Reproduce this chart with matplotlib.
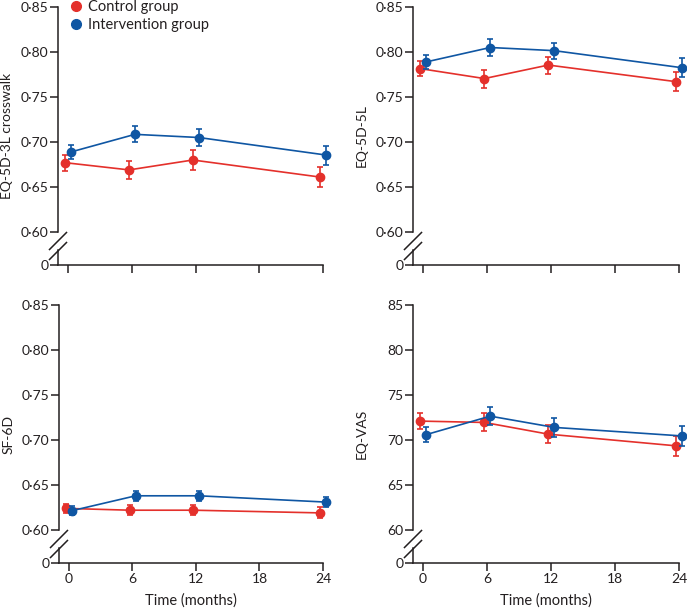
import matplotlib.pyplot as plt

plt.rcParams['font.family'] = ['Lato', 'DejaVu Sans']
plt.rcParams['font.size'] = 10

RED = '#e4302b'
BLUE = '#0f56a3'
INK = '#231f20'

months = [0, 6, 12, 24]
x_ticks = [0, 6, 12, 18, 24]
shift_control = -0.25
shift_interv = 0.3

# EQ-5D-3L crosswalk
eq3l_control = [0.677, 0.669, 0.680, 0.661]
eq3l_control_err = [0.009, 0.010, 0.011, 0.011]
eq3l_interv = [0.689, 0.7085, 0.705, 0.6855]
eq3l_interv_err = [0.008, 0.009, 0.009, 0.0105]

# EQ-5D-5L
eq5l_control = [0.7815, 0.7705, 0.7855, 0.767]
eq5l_control_err = [0.008, 0.010, 0.0095, 0.0105]
eq5l_interv = [0.789, 0.805, 0.8015, 0.7825]
eq5l_interv_err = [0.008, 0.009, 0.0088, 0.0104]

# SF-6D
sf6d_control = [0.624, 0.622, 0.622, 0.619]
sf6d_control_err = [0.0046, 0.0055, 0.0057, 0.006]
sf6d_interv = [0.6215, 0.638, 0.638, 0.631]
sf6d_interv_err = [0.005, 0.0054, 0.0055, 0.006]

# EQ-VAS
vas_control = [72.1, 71.95, 70.65, 69.35]
vas_control_err = [0.93, 1.0, 1.0, 1.1]
vas_interv = [70.6, 72.65, 71.4, 70.45]
vas_interv_err = [0.83, 0.98, 1.05, 1.07]

util_ticks = [0.60, 0.65, 0.70, 0.75, 0.80, 0.85]
util_labels = ['0·60', '0·65', '0·70', '0·75', '0·80', '0·85']
vas_ticks = [60, 65, 70, 75, 80, 85]
vas_labels = ['60', '65', '70', '75', '80', '85']

panels = [
    ("EQ-5D-3L crosswalk", eq3l_control, eq3l_control_err, eq3l_interv, eq3l_interv_err, util_ticks, util_labels),
    ("EQ-5D-5L", eq5l_control, eq5l_control_err, eq5l_interv, eq5l_interv_err, util_ticks, util_labels),
    ("SF-6D", sf6d_control, sf6d_control_err, sf6d_interv, sf6d_interv_err, util_ticks, util_labels),
    ("EQ-VAS", vas_control, vas_control_err, vas_interv, vas_interv_err, vas_ticks, vas_labels),
]

W, H = 687, 609
boxes = [(58, 265, 265), (413, 265, 266), (59, 563, 264), (413, 563, 266)]  # left, bottom, width (px)
AX_H = 258
GAP = 33  # px between the lowest real tick and the "0" at the bottom


def draw_panel(ax, label, c, ce, v, ve, ticks, tick_labels, bottom_row):
    step = ticks[1] - ticks[0]
    tick_px = (AX_H - GAP) / (len(ticks) - 1)
    y0 = ticks[0] - step * GAP / tick_px
    ax.set_ylim(y0, ticks[-1])
    ax.set_xlim(-24 * 10 / 255, 24)

    xc = [m + shift_control for m in months]
    xv = [m + shift_interv for m in months]
    ax.errorbar(xc, c, yerr=ce, color=RED, marker='o', markersize=6, lw=1.2,
                elinewidth=1.2, capsize=2.5, capthick=1.2, clip_on=False,
                label='Control group', zorder=3)
    ax.errorbar(xv, v, yerr=ve, color=BLUE, marker='o', markersize=6, lw=1.2,
                elinewidth=1.2, capsize=2.5, capthick=1.2, clip_on=False,
                label='Intervention group', zorder=4)

    ax.set_yticks([y0] + ticks)
    ax.set_yticklabels(['0'] + tick_labels)
    ax.set_xticks(x_ticks)
    if bottom_row:
        ax.set_xticklabels([str(t) for t in x_ticks])
        ax.set_xlabel('Time (months)', fontsize=10.5, color=INK, labelpad=6)
    else:
        ax.set_xticklabels([])

    ax.tick_params(length=5.5, width=1.1, color=INK, pad=1.5, labelsize=10, labelcolor=INK)
    ax.set_ylabel(label, fontsize=10, color=INK)
    ax.yaxis.set_label_coords(-0.17, 0.5)

    for s in ['top', 'right', 'left']:
        ax.spines[s].set_visible(False)
    ax.spines['bottom'].set_linewidth(1.1)
    ax.spines['bottom'].set_color(INK)

    # broken left spine
    top_frac = GAP / AX_H
    ax.plot([0, 0], [top_frac, 1], transform=ax.transAxes, color=INK, lw=1.1, clip_on=False)
    ax.plot([0, 0], [0, 15 / AX_H], transform=ax.transAxes, color=INK, lw=1.1, clip_on=False)
    dx = 8.5 / 265
    dy = 8.5 / AX_H
    for cy in [24 / AX_H, 14 / AX_H]:
        ax.plot([-dx, dx], [cy - dy, cy + dy], transform=ax.transAxes, color=INK,
                lw=1.1, clip_on=False)


fig = plt.figure(figsize=(W / 100, H / 100), dpi=100)
for i, (label, c, ce, v, ve, ticks, tick_labels) in enumerate(panels):
    left, bottom, width = boxes[i]
    ax = fig.add_axes([left / W, 1 - bottom / H, width / W, AX_H / H])
    draw_panel(ax, label, c, ce, v, ve, ticks, tick_labels, i >= 2)
    if i == 0:
        handles = [plt.Line2D([], [], color=RED, marker='o', ls='none', markersize=7),
                   plt.Line2D([], [], color=BLUE, marker='o', ls='none', markersize=7)]
        ax.legend(handles, ['Control group', 'Intervention group'], loc='upper left',
                  bbox_to_anchor=(0.02, 1.055), frameon=False, handlelength=0.8,
                  handletextpad=0.4, borderpad=0, labelspacing=0.3, fontsize=10.5,
                  labelcolor=INK)

fig.savefig('out.png', dpi=100)
